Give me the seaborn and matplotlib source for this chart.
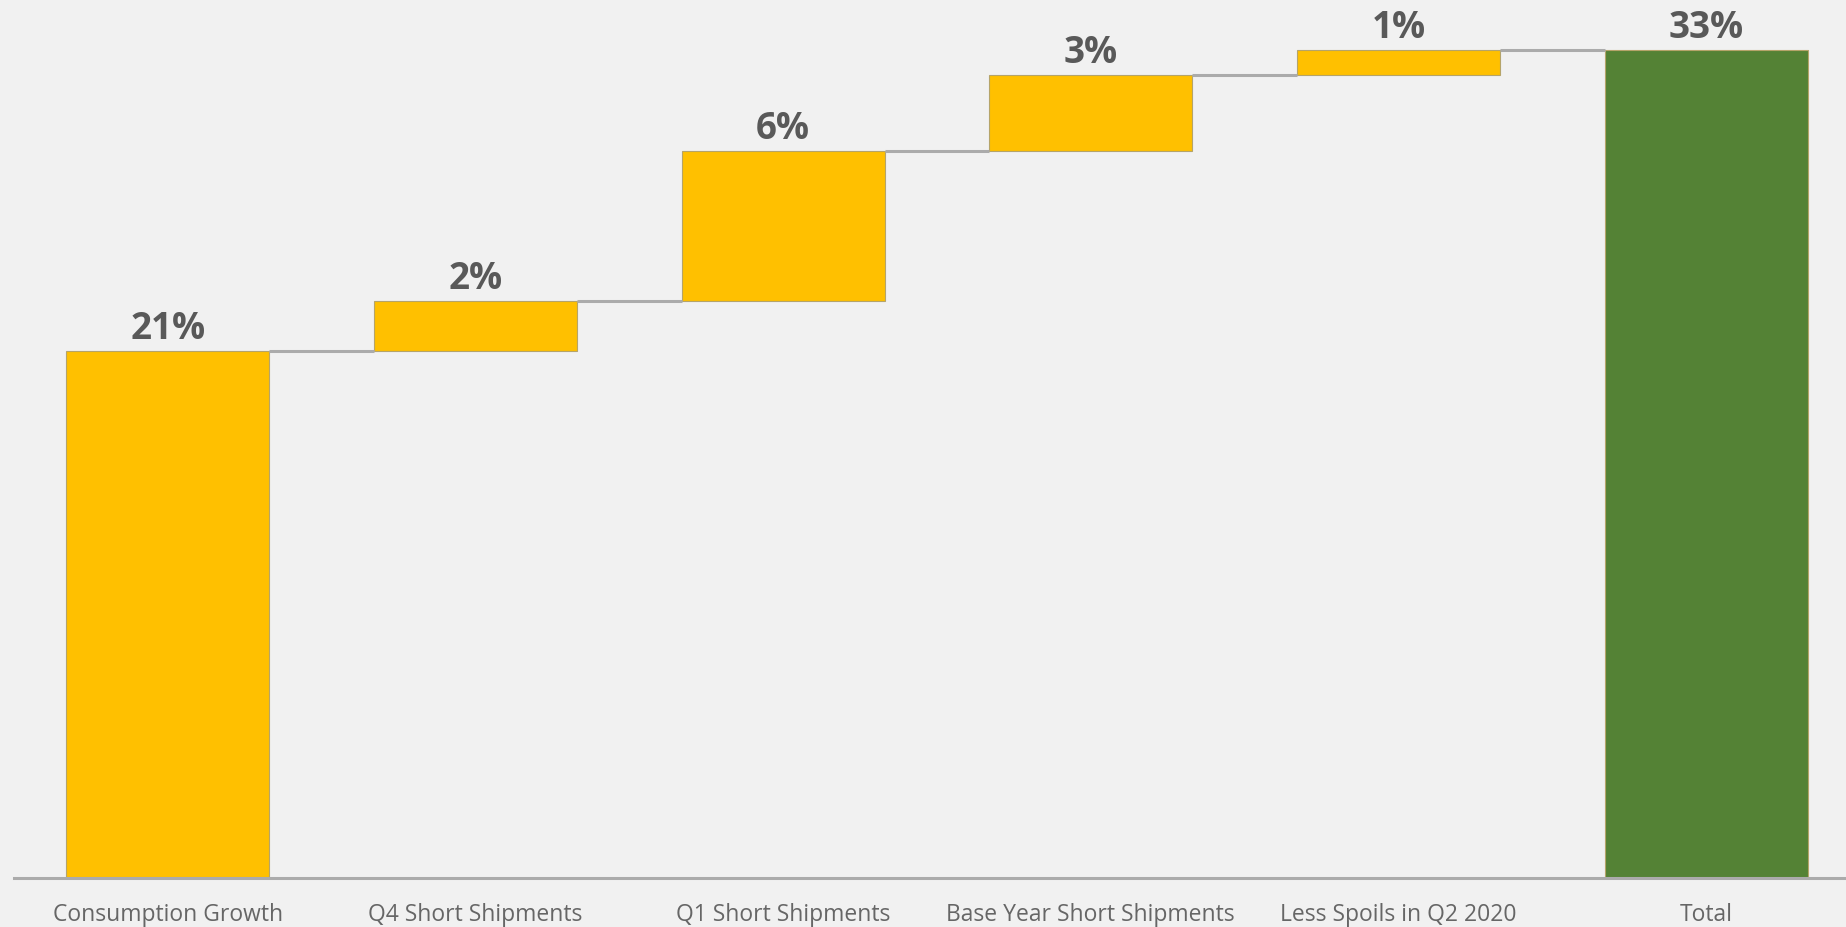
import numpy as np
import pandas as pd
import seaborn as sns
import matplotlib.pyplot as plt

# waterfall data (percent)
categories = ["Consumption Growth", "Q4 Short Shipments", "Q1 Short Shipments",
              "Base Year Short Shipments", "Less Spoils in Q2 2020", "Total"]
changes = [21.0, 2.0, 6.0, 3.0, 1.0]

total = sum(changes)
heights = changes + [total]
cum = np.cumsum(changes)
bottoms = list(np.concatenate([[0], cum[:-1]])) + [0]
tops = list(cum) + [total]

bar_colors = ["#FFC000"] * 5 + ["#548235"]
bg = "#F1F1F1"
grey_line = "#ABABAB"

sns.set_style("white")
plt.rcParams['font.family'] = ['Open Sans', 'DejaVu Sans']

fig = plt.figure(figsize=(18.46, 9.27), dpi=100, facecolor=bg)
ax = fig.add_axes([14 / 1846, 49 / 927, 1 - 14 / 1846, 878 / 927])
ax.set_facecolor(bg)

df = pd.DataFrame({"cat": categories, "val": heights})
sns.barplot(data=df, x="cat", y="val", hue="cat", palette=bar_colors,
            dodge=False, width=0.66, legend=False, ax=ax,
            edgecolor="#B5A46A", linewidth=0.8, saturation=1)

# lift the floating bars
for patch, b in zip(ax.patches, bottoms):
    patch.set_y(b)

w = 0.66
for i in range(len(categories) - 1):
    ax.plot([i + w / 2, i + 1 - w / 2], [tops[i], tops[i]],
            color=grey_line, lw=2.2, solid_capstyle="butt", zorder=1)

for i, (v, t) in enumerate(zip(heights, tops)):
    ax.annotate(f"{v:.0f}%", xy=(i, t), xytext=(0, 8.5), textcoords="offset points",
                ha="center", va="baseline", fontsize=26.5, fontweight="bold",
                color="#595959")

ax.set_xlim(-0.5, 5.455)
ax.set_ylim(0, 35)
ax.set_xlabel("")
ax.set_ylabel("")
ax.set_yticks([])
for s in ["top", "right", "left"]:
    ax.spines[s].set_visible(False)
ax.spines["bottom"].set_color(grey_line)
ax.spines["bottom"].set_linewidth(2.2)
ax.tick_params(axis="x", length=0, pad=18, labelsize=16.5, labelcolor="#666666")

fig.savefig("out.png", dpi=100, facecolor=bg)
